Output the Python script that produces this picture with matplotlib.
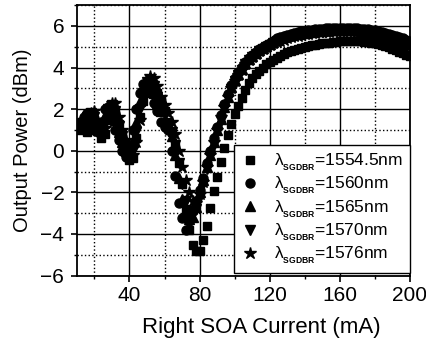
import numpy as np
import matplotlib
matplotlib.use("Agg")
import matplotlib.pyplot as plt
from matplotlib.ticker import MultipleLocator

plt.rcParams['font.family'] = ['Liberation Sans', 'DejaVu Sans']
plt.rcParams['mathtext.fontset'] = 'custom'
plt.rcParams['mathtext.rm'] = 'Liberation Sans'
plt.rcParams['mathtext.bf'] = 'Liberation Sans:bold'

# right SOA current sweep, 2 mA steps
current = np.arange(12, 202, 2)

p1554 = [
	1.0, 1.1, 0.9, 1.2, 1.5, 1.3, 0.6, 0.8, 1.5, 2.0,
	1.9, 1.3, 0.8, 0.3, -0.45, -0.35, 0.6, 1.6, 2.4, 2.9,
	3.1, 3.1, 2.8, 2.4, 1.9, 1.4, 0.9, 0.3, -0.6, -1.6,
	-2.8, -3.8, -4.55, -4.8, -4.8, -4.3, -3.6, -2.75, -1.95, -1.25,
	-0.55, 0.15, 0.75, 1.3, 1.75, 2.15, 2.55, 2.9, 3.25, 3.5,
	3.7, 3.85, 4.0, 4.15, 4.25, 4.35, 4.45, 4.55, 4.65, 4.75,
	4.8, 4.85, 4.9, 4.95, 5.0, 5.05, 5.1, 5.1, 5.15, 5.2,
	5.2, 5.2, 5.25, 5.25, 5.3, 5.3, 5.3, 5.3, 5.3, 5.3,
	5.3, 5.25, 5.25, 5.2, 5.2, 5.15, 5.1, 5.05, 5.0, 4.9,
	4.85, 4.75, 4.7, 4.6, 4.55,
]
p1560 = [
	1.4, 1.6, 1.8, 1.5, 1.0, 0.9, 1.4, 2.0, 2.1, 1.6,
	1.0, 0.5, 0.0, -0.3, 0.1, 1.0, 2.0, 2.8, 3.2, 3.2,
	2.8, 2.3, 1.9, 1.4, 1.15, 1.0, 0.0, -1.2, -2.5, -3.25,
	-3.8, -3.4, -2.9, -2.4, -1.9, -1.3, -0.6, 0.0, 0.6, 1.15,
	1.7, 2.25, 2.75, 3.15, 3.5, 3.8, 4.05, 4.25, 4.45, 4.6,
	4.75, 4.9, 5.0, 5.1, 5.2, 5.3, 5.4, 5.45, 5.5, 5.55,
	5.6, 5.65, 5.7, 5.75, 5.75, 5.8, 5.8, 5.85, 5.85, 5.85,
	5.9, 5.9, 5.9, 5.9, 5.9, 5.9, 5.9, 5.9, 5.9, 5.9,
	5.85, 5.85, 5.85, 5.8, 5.8, 5.75, 5.7, 5.65, 5.6, 5.55,
	5.5, 5.45, 5.4, 5.35, 5.3,
]
p1565 = [
	1.2, 1.5, 1.7, 1.8, 1.3, 1.0, 1.0, 1.7, 2.2, 2.1,
	1.5, 0.9, 0.4, 0.0, -0.2, 0.4, 1.4, 2.4, 3.0, 3.3,
	3.2, 2.8, 2.3, 1.9, 1.5, 1.2, 0.7, -0.2, -1.3, -2.3,
	-3.0, -3.3, -3.2, -2.7, -2.0, -1.4, -0.8, -0.2, 0.4, 1.0,
	1.55, 2.1, 2.6, 3.05, 3.4, 3.7, 3.95, 4.2, 4.4, 4.55,
	4.7, 4.85, 4.95, 5.05, 5.15, 5.25, 5.35, 5.4, 5.45, 5.5,
	5.55, 5.6, 5.6, 5.65, 5.65, 5.7, 5.7, 5.75, 5.75, 5.75,
	5.8, 5.8, 5.8, 5.8, 5.8, 5.8, 5.8, 5.8, 5.8, 5.8,
	5.75, 5.75, 5.75, 5.7, 5.7, 5.65, 5.6, 5.55, 5.5, 5.45,
	5.4, 5.35, 5.3, 5.25, 5.2,
]
p1570 = [
	1.1, 1.3, 1.6, 1.8, 1.6, 1.1, 0.9, 1.3, 2.0, 2.2,
	1.9, 1.2, 0.7, 0.2, -0.1, 0.0, 0.9, 2.0, 2.8, 3.3,
	3.4, 3.1, 2.6, 2.1, 1.7, 1.3, 0.9, 0.3, -0.6, -1.6,
	-2.4, -2.9, -3.0, -2.8, -2.2, -1.6, -0.9, -0.3, 0.3, 0.9,
	1.45, 2.0, 2.5, 2.95, 3.35, 3.65, 3.9, 4.15, 4.35, 4.5,
	4.65, 4.8, 4.9, 5.0, 5.1, 5.2, 5.3, 5.35, 5.4, 5.45,
	5.5, 5.55, 5.6, 5.6, 5.65, 5.65, 5.7, 5.7, 5.75, 5.75,
	5.75, 5.8, 5.8, 5.8, 5.8, 5.8, 5.8, 5.8, 5.8, 5.75,
	5.75, 5.75, 5.7, 5.7, 5.65, 5.6, 5.55, 5.5, 5.45, 5.4,
	5.35, 5.3, 5.2, 5.15, 5.1,
]
p1576 = [
	1.3, 1.2, 1.5, 1.8, 1.9, 1.4, 1.0, 1.1, 1.8, 2.3,
	2.3, 1.6, 1.0, 0.5, 0.1, -0.2, 0.4, 1.5, 2.6, 3.3,
	3.6, 3.5, 3.1, 2.6, 2.2, 1.8, 1.4, 0.8, 0.0, -0.8,
	-1.4, -2.0, -2.4, -2.5, -2.1, -1.5, -0.8, -0.2, 0.4, 1.0,
	1.6, 2.1, 2.6, 3.0, 3.35, 3.65, 3.9, 4.15, 4.35, 4.5,
	4.65, 4.8, 4.9, 5.0, 5.1, 5.2, 5.25, 5.3, 5.35, 5.4,
	5.45, 5.5, 5.5, 5.55, 5.6, 5.6, 5.65, 5.65, 5.7, 5.7,
	5.7, 5.7, 5.75, 5.75, 5.75, 5.75, 5.75, 5.75, 5.75, 5.7,
	5.7, 5.7, 5.65, 5.65, 5.6, 5.55, 5.5, 5.45, 5.4, 5.35,
	5.3, 5.25, 5.2, 5.1, 5.05,
]

wavelengths = ['1554.5', '1560', '1565', '1570', '1576']
markers = ['s', 'o', '^', 'v', '*']
sizes = [6, 6.5, 7, 7, 9]

fig = plt.figure(figsize=(4.27, 3.47), dpi=100)
ax = fig.add_axes([0.18, 0.206, 0.78, 0.779])

for values, wl, mk, ms in zip([p1554, p1560, p1565, p1570, p1576], wavelengths, markers, sizes):
	ax.plot(current, values, linestyle='none', marker=mk, markersize=ms,
		color='black', label=r'λ$_{_{\mathbf{SGDBR}}}$=' + wl + 'nm')

ax.set_xlim(10, 200)
ax.set_ylim(-6, 7)
ax.xaxis.set_major_locator(MultipleLocator(40))
ax.xaxis.set_minor_locator(MultipleLocator(20))
ax.yaxis.set_minor_locator(MultipleLocator(1))
ax.set_yticks([-6, -4, -2, 0, 2, 4, 6])

ax.grid(which='major', color='black', linestyle='-', linewidth=1.0)
ax.grid(which='minor', color='black', linestyle=':', linewidth=1.0)
ax.set_axisbelow(True)

for spine in ax.spines.values():
	spine.set_linewidth(1.3)
ax.tick_params(which='major', direction='out', length=4, width=1.2, labelsize=15)
ax.tick_params(which='minor', direction='out', length=2.5, width=1.0)
ax.tick_params(axis='y', pad=5)

ax.set_xlabel('Right SOA Current (mA)', fontsize=16)
ax.xaxis.set_label_coords(0.553, -0.155)
ax.set_ylabel('Output Power (dBm)', fontsize=14.5, labelpad=6)

leg = ax.legend(loc='lower right', bbox_to_anchor=(1.0, 0.01), borderaxespad=0,
	fontsize=12.5, frameon=True, fancybox=False, edgecolor='black',
	handlelength=1.0, handletextpad=0.9, labelspacing=0.12, borderpad=0.4)
leg.get_frame().set_linewidth(1.0)
leg.get_frame().set_alpha(1)

plt.savefig('out.png', dpi=100)
